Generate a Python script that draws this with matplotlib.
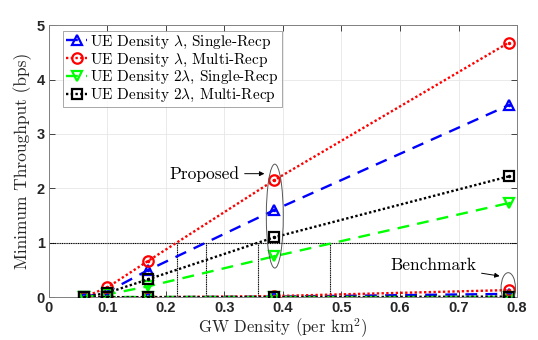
import matplotlib
matplotlib.use("Agg")
import matplotlib.pyplot as plt
from matplotlib.patches import Ellipse
import numpy as np

plt.rcParams['mathtext.fontset'] = 'cm'
plt.rcParams['axes.formatter.use_mathtext'] = True

# GW density (per km^2)
gw_density = [0.06, 0.1, 0.17, 0.385, 0.786]

# Proposed scheme
ue1_single = [0.0, 0.10, 0.50, 1.60, 3.53]
ue1_multi = [0.0, 0.18, 0.67, 2.15, 4.68]
ue2_single = [0.0, 0.05, 0.20, 0.75, 1.73]
ue2_multi = [0.0, 0.08, 0.33, 1.10, 2.22]

# Benchmark scheme
bm_ue1_single = [0.0, 0.0, 0.0, 0.01, 0.06]
bm_ue1_multi = [0.0, 0.0, 0.0, 0.02, 0.13]
bm_ue2_single = [0.0, 0.0, 0.0, 0.0, 0.0]
bm_ue2_multi = [0.0, 0.0, 0.0, 0.0, 0.01]

# x positions where each proposed curve reaches 1 bps
cross_x = [0.218, 0.268, 0.357, 0.481]
threshold = 1.0

labels = [r'UE Density $\lambda$, Single-Recp',
          r'UE Density $\lambda$, Multi-Recp',
          r'UE Density 2$\lambda$, Single-Recp',
          r'UE Density 2$\lambda$, Multi-Recp']

serif = 'cmr10'

fig = plt.figure(figsize=(5.38, 3.4), dpi=100)
ax = fig.add_axes([0.091, 0.126, 0.870, 0.800])

lw = 1.7
ms = 7.5
mew = 1.6
styles = [
    dict(color='#0000ff', ls=(0, (5, 3.5)), marker='^'),
    dict(color='#ff0000', ls=(0, (1, 1)), marker='o'),
    dict(color='#00ff00', ls=(0, (5, 3.5)), marker='v'),
    dict(color='#000000', ls=(0, (1, 1)), marker='s'),
]
proposed = [ue1_single, ue1_multi, ue2_single, ue2_multi]
bench = [bm_ue1_single, bm_ue1_multi, bm_ue2_single, bm_ue2_multi]

# threshold lines
ax.axhline(threshold, color='black', lw=0.8, ls=(0, (1, 0.6)), zorder=1)
for cx in cross_x:
    ax.plot([cx, cx], [0, threshold], color='black', lw=0.8, ls=(0, (1, 0.6)), zorder=1)

handles = []
for st, yv, lab in zip(styles, proposed, labels):
    h, = ax.plot(gw_density, yv, color=st['color'], ls=st['ls'], lw=lw,
                 marker=st['marker'], ms=ms, mfc='none', mec=st['color'],
                 mew=mew, label=lab, zorder=3)
    ax.plot(gw_density, yv, ls='none', marker='.', ms=3, color=st['color'], zorder=3)
    handles.append(h)
for st, yv in zip(styles, bench):
    ax.plot(gw_density, yv, color=st['color'], ls=st['ls'], lw=lw,
            marker=st['marker'], ms=ms, mfc='none', mec=st['color'],
            mew=mew, zorder=3)
    ax.plot(gw_density, yv, ls='none', marker='.', ms=3, color=st['color'], zorder=3)

# ellipses
ax.add_patch(Ellipse((0.386, 1.49), 0.029, 1.91, fill=False, ec='#555555', lw=0.7, zorder=4))
ax.add_patch(Ellipse((0.785, 0.17), 0.0245, 0.56, fill=False, ec='#555555', lw=0.7, zorder=4))

ax.annotate('Proposed', xy=(0.373, 2.27), xytext=(0.325, 2.27),
            ha='right', va='center', fontsize=12.5, family=serif,
            arrowprops=dict(arrowstyle='-|>', color='black', lw=0.7, mutation_scale=7))
ax.annotate('Benchmark', xy=(0.775, 0.38), xytext=(0.73, 0.58),
            ha='right', va='center', fontsize=12.5, family=serif,
            arrowprops=dict(arrowstyle='-|>', color='black', lw=0.7, mutation_scale=7))

ax.set_xlim(0, 0.8)
ax.set_ylim(0, 5)
ax.set_xticks(np.arange(0, 0.81, 0.1))
ax.set_xticklabels(['0', '0.1', '0.2', '0.3', '0.4', '0.5', '0.6', '0.7', '0.8'])
ax.set_yticks([0, 1, 2, 3, 4, 5])
ax.set_yticklabels(['0', '1', '2', '3', '4', '5'])
for t in ax.get_xticklabels() + ax.get_yticklabels():
    t.set_fontfamily('Liberation Sans')
    t.set_fontweight('bold')
    t.set_fontsize(10.5)
ax.tick_params(direction='in', length=4, width=0.6, colors='#262626',
               top=True, right=True, pad=3)
ax.grid(True, color='#e6e6e6', lw=0.6, zorder=0)
ax.set_axisbelow(True)
for sp in ax.spines.values():
    sp.set_color('#808080')
    sp.set_linewidth(0.7)

ax.set_xlabel(r'GW Density (per km$^2$)', fontsize=12, family=serif, color='#262626', labelpad=1)
ax.set_ylabel('Minimum Throughput (bps)', fontsize=12.5, family=serif, color='#262626', labelpad=3)

leg = ax.legend(handles=handles, loc='upper left', bbox_to_anchor=(0.03, 0.98),
                prop={'family': serif, 'size': 11}, handlelength=1.4,
                handletextpad=0.2, borderpad=0.2, labelspacing=0.05,
                borderaxespad=0, frameon=True, fancybox=False)
leg.get_frame().set_edgecolor('#808080')
leg.get_frame().set_linewidth(0.6)

fig.savefig('out.png', dpi=100)
